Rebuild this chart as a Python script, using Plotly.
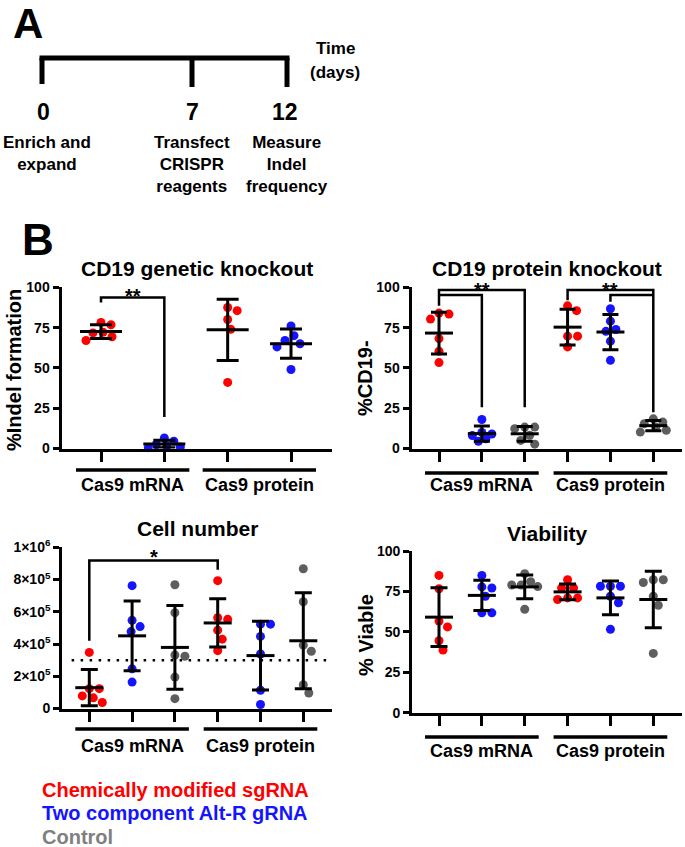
import numpy as np
import plotly.graph_objects as go

W, H = 685, 847
FONT = "Liberation Sans, Arial, Helvetica, sans-serif"

# ---------------- data ----------------
group_labels = ["Cas9 mRNA", "Cas9 protein"]
series_names = ["Chemically modified sgRNA", "Two component Alt-R gRNA", "Control"]
series_colors = ["#ff0000", "#1414ff", "#5e5e5e"]
legend_colors = ["#ff0000", "#1414ff", "#808080"]

timeline_days = ["0", "7", "12"]
timeline_events = ["Enrich and<br>expand", "Transfect<br>CRISPR<br>reagents", "Measure<br>Indel<br>frequency"]

# CD19 genetic knockout (% indel formation)
indel_mrna_sg = [78.2, 76.8, 71.7, 72.1, 67.0, 69.3]
indel_mrna_alt = [0.5, 1.0, 2.5, 6.5, 4.5, 1.5]
indel_prot_sg = [85.5, 80.0, 87.5, 74.0, 41.0]
indel_prot_alt = [70.0, 76.0, 65.0, 63.0, 67.0, 49.0]

# CD19 protein knockout (%CD19-)
cd19_mrna_sg = [84.0, 83.4, 80.3, 68.2, 60.4, 53.3]
cd19_mrna_alt = [18.0, 10.0, 9.0, 8.0, 6.0, 4.5]
cd19_mrna_ctrl = [12.3, 13.3, 13.3, 8.2, 5.0, 2.7]
cd19_prot_sg = [88.5, 85.5, 69.7, 69.7, 63.0]
cd19_prot_alt = [86.7, 79.0, 73.8, 72.7, 66.6, 54.7]
cd19_prot_ctrl = [18.4, 16.4, 15.4, 13.3, 10.2, 11.3]

# Cell number
cells_mrna_sg = [3.48e5, 1.23e5, 1.23e5, 0.78e5, 0.66e5, 0.37e5]
cells_mrna_alt = [7.62e5, 5.47e5, 5.08e5, 4.77e5, 2.46e5, 1.64e5]
cells_mrna_ctrl = [7.68e5, 5.94e5, 3.24e5, 3.32e5, 1.95e5, 0.61e5]
cells_prot_sg = [7.93e5, 5.53e5, 5.63e5, 4.86e5, 4.30e5, 3.59e5]
cells_prot_alt = [5.23e5, 5.23e5, 4.47e5, 3.38e5, 1.13e5, 0.25e5]
cells_prot_ctrl = [8.67e5, 6.62e5, 3.93e5, 3.55e5, 1.48e5, 0.96e5]
cells_threshold = 3.0e5
cells_tickvals = [0, 2e5, 4e5, 6e5, 8e5, 1e6]
cells_ticktext = ["0", "2×10<sup>5</sup>", "4×10<sup>5</sup>", "6×10<sup>5</sup>",
                  "8×10<sup>5</sup>", "1×10<sup>6</sup>"]

# Viability (% viable)
viab_mrna_sg = [84.9, 76.7, 56.7, 53.1, 44.5, 38.8]
viab_mrna_alt = [84.9, 77.1, 77.8, 72.0, 61.8, 61.8]
viab_mrna_ctrl = [86.0, 81.0, 79.0, 79.0, 78.0, 64.0]
viab_prot_sg = [82.2, 77.1, 77.1, 71.0, 71.0, 70.0]
viab_prot_alt = [78.2, 78.2, 78.2, 72.0, 68.0, 51.6]
viab_prot_ctrl = [82.2, 82.2, 80.5, 72.0, 66.5, 36.7]

pct_ticks = [0, 25, 50, 75, 100]

# ---------------- panel layout ----------------
panels = [
    dict(title="CD19 genetic knockout", ytitle="%Indel formation",
         values=[indel_mrna_sg, indel_mrna_alt, indel_prot_sg, indel_prot_alt],
         series=[0, 1, 0, 1], groups=[(0, 1), (2, 3)], ymax=100,
         yticks=pct_ticks, yticktext=[str(v) for v in pct_ticks],
         brackets=[dict(a=0, b=1, top=93.6, la=90.5, lb=19.5)],
         stars=[dict(x=0.5, y=93.6, t="**", gap=6)],
         xl=60, xr=332, t0=101, t1=291, y0=450, yt=287.3,
         mean_px=42, cap=11, ext=25, gline=470, glabel=485, spread=16,
         title_xy=(197, 268), ytitle_xy=(14, 370)),
    dict(title="CD19 protein knockout", ytitle="%CD19-",
         values=[cd19_mrna_sg, cd19_mrna_alt, cd19_mrna_ctrl, cd19_prot_sg, cd19_prot_alt, cd19_prot_ctrl],
         series=[0, 1, 2, 0, 1, 2], groups=[(0, 2), (3, 5)], ymax=100,
         yticks=pct_ticks, yticktext=[str(v) for v in pct_ticks],
         brackets=[dict(a=0, b=2, top=98.3, la=88.5, lb=25.6),
                   dict(a=0, b=1, top=95.3, la=None, lb=25.6),
                   dict(a=3, b=5, top=98.3, la=92.0, lb=22.5),
                   dict(a=4, b=5, top=95.3, la=91.0, lb=None)],
         stars=[dict(x=1, y=98.3, t="**", gap=4.5), dict(x=4, y=98.3, t="**", gap=4.5)],
         xl=410, xr=681.7, t0=439, t1=653.3, y0=450, yt=287.3,
         mean_px=28, cap=8, ext=14, gline=473, glabel=485, spread=13,
         title_xy=(547, 268), ytitle_xy=(365, 378)),
    dict(title="Cell number", ytitle=None,
         values=[cells_mrna_sg, cells_mrna_alt, cells_mrna_ctrl, cells_prot_sg, cells_prot_alt, cells_prot_ctrl],
         series=[0, 1, 2, 0, 1, 2], groups=[(0, 2), (3, 5)], ymax=1e6,
         yticks=cells_tickvals, yticktext=cells_ticktext,
         brackets=[dict(a=0, b=3, top=9.18e5, la=4.2e5, lb=8.6e5)],
         stars=[dict(x=1.5, y=9.18e5, t="*", gap=8)],
         xl=60.7, xr=331.7, t0=89.3, t1=303.3, y0=710, yt=547.3,
         mean_px=28, cap=8.5, ext=14, gline=729, glabel=746, spread=13,
         title_xy=(197, 528), ytitle_xy=None, threshold=cells_threshold),
    dict(title="Viability", ytitle="% Viable",
         values=[viab_mrna_sg, viab_mrna_alt, viab_mrna_ctrl, viab_prot_sg, viab_prot_alt, viab_prot_ctrl],
         series=[0, 1, 2, 0, 1, 2], groups=[(0, 2), (3, 5)], ymax=100,
         yticks=pct_ticks, yticktext=[str(v) for v in pct_ticks],
         brackets=[], stars=[],
         xl=410.7, xr=681.7, t0=439, t1=653.3, y0=714.3, yt=551,
         mean_px=28, cap=8.5, ext=14, gline=737, glabel=751, spread=13,
         title_xy=(547, 533), ytitle_xy=(366, 635)),
]

LW = 3
DOT = 9          # marker diameter px
MIN_D = 10       # swarm spacing px


def px2x(px):
    return px / W


def px2y(py):
    return 1 - py / H


def swarm(vals, ppu_y, d, max_off):
    """Beeswarm offsets (px); dots avoid overlap within +/- max_off, else least overlap."""
    order = sorted(range(len(vals)), key=lambda i: -vals[i])
    placed = []
    offs = [0.0] * len(vals)
    cands = [0.0]
    k = 1
    while k * 0.5 <= max_off:
        cands += [k * 0.5, -k * 0.5]
        k += 1
    for i in order:
        y = vals[i] * ppu_y
        best, best_d = 0.0, -1.0
        for c in cands:
            md = min([((c - px) ** 2 + (y - py) ** 2) ** 0.5 for px, py in placed] or [1e9])
            if md >= d:
                best = c
                break
            if md > best_d + 1e-9:
                best, best_d = c, md
        placed.append((best, y))
        offs[i] = best
    return offs


fig = go.Figure()
ann = []
shapes = []


def text(x, y, s, size, color="black", family=FONT, xanchor="center", yanchor="middle",
         angle=0, align="center"):
    ann.append(dict(x=px2x(x), y=px2y(y), xref="paper", yref="paper", text=s, showarrow=False,
                    font=dict(family=family, size=size, color=color, weight="bold"),
                    xanchor=xanchor, yanchor=yanchor, textangle=angle, align=align))


layout_axes = {}
for k, p in enumerate(panels, start=1):
    n = len(p["values"])
    s = (p["t1"] - p["t0"]) / (n - 1)
    domL = p["xl"] + LW / 2
    domR = p["xr"]
    domB = p["y0"] - LW / 2
    domT = p["yt"]
    r0 = -(p["t0"] - domL) / s
    r1 = (n - 1) + (domR - p["t1"]) / s
    ppu_y = (domB - domT) / p["ymax"]
    xa = "x" if k == 1 else f"x{k}"
    ya = "y" if k == 1 else f"y{k}"
    layout_axes["xaxis" if k == 1 else f"xaxis{k}"] = dict(
        domain=[px2x(domL), px2x(domR)], range=[r0, r1], anchor=ya,
        showgrid=False, zeroline=False, showline=True, linewidth=LW, linecolor="black",
        tickvals=list(range(n)), ticks="outside", ticklen=10, tickwidth=LW, tickcolor="black",
        showticklabels=False, fixedrange=True)
    layout_axes["yaxis" if k == 1 else f"yaxis{k}"] = dict(
        domain=[px2y(domB), px2y(domT)], range=[0, p["ymax"]], anchor=xa,
        showgrid=False, zeroline=False, showline=True, linewidth=LW, linecolor="black",
        tickvals=p["yticks"], ticktext=p["yticktext"], ticks="outside", ticklen=6,
        tickwidth=LW, tickcolor="black",
        tickfont=dict(family=FONT, size=14, color="black", weight="bold"), fixedrange=True)

    # dotted threshold
    if p.get("threshold") is not None:
        fig.add_trace(go.Scatter(x=[r0 + 0.22, r1], y=[p["threshold"]] * 2, mode="lines",
                                 line=dict(color="black", width=2.5, dash="2.5px,6.5px"),
                                 xaxis=xa, yaxis=ya, showlegend=False, hoverinfo="skip"))

    # points
    for ci, (vals, si) in enumerate(zip(p["values"], p["series"])):
        offs = swarm(vals, ppu_y, MIN_D, p["spread"])
        fig.add_trace(go.Scatter(
            x=[ci + o / s for o in offs], y=vals, mode="markers",
            marker=dict(size=DOT, color=series_colors[si], line=dict(width=0)),
            xaxis=xa, yaxis=ya, showlegend=False, cliponaxis=False,
            name=series_names[si]))
    # mean +/- SD
    for ci, vals in enumerate(p["values"]):
        m = float(np.mean(vals))
        sd = float(np.std(vals, ddof=1))
        fig.add_trace(go.Scatter(
            x=[ci], y=[m], mode="markers",
            marker=dict(symbol="line-ew", size=p["mean_px"] / 1.4, color="black",
                        line=dict(width=LW, color="black")),
            error_y=dict(type="data", array=[sd], arrayminus=[sd], visible=True,
                         color="black", thickness=LW, width=p["cap"]),
            xaxis=xa, yaxis=ya, showlegend=False, cliponaxis=False))
    # significance brackets
    for b in p["brackets"]:
        xs, ys = [], []
        if b["la"] is not None:
            xs += [b["a"], b["a"]]
            ys += [b["la"], b["top"]]
        else:
            xs += [b["a"]]
            ys += [b["top"]]
        xs += [b["b"]]
        ys += [b["top"]]
        if b["lb"] is not None:
            xs += [b["b"]]
            ys += [b["lb"]]
        fig.add_trace(go.Scatter(x=xs, y=ys, mode="lines",
                                 line=dict(color="black", width=2.5),
                                 xaxis=xa, yaxis=ya, showlegend=False, hoverinfo="skip"))
    for st in p["stars"]:
        sx = p["t0"] + st["x"] * s
        sy = domB - st["y"] * ppu_y
        # asterisk glyph sits ~4.4px above the text box centre
        text(sx, sy - st["gap"] + 4.4, st["t"], 20, yanchor="middle")

    # group lines & labels
    for gi, (ga, gb) in enumerate(p["groups"]):
        xa_px = p["t0"] + ga * s - p["ext"]
        xb_px = p["t0"] + gb * s + p["ext"]
        shapes.append(dict(type="line", xref="paper", yref="paper",
                           x0=px2x(xa_px), x1=px2x(xb_px), y0=px2y(p["gline"]), y1=px2y(p["gline"]),
                           line=dict(color="black", width=3.5)))
        text((xa_px + xb_px) / 2, p["glabel"], group_labels[gi], 18)

    # titles
    text(p["title_xy"][0], p["title_xy"][1], p["title"], 21)
    if p["ytitle"]:
        text(p["ytitle_xy"][0], p["ytitle_xy"][1], p["ytitle"], 20, angle=-90)

# ---------------- panel A: timeline ----------------
text(28, -2, "A", 42, yanchor="top")
text(38, 239, "B", 44)
tl_y = 58
tick_x = [42, 192, 287]
shapes.append(dict(type="line", xref="paper", yref="paper", x0=px2x(39.5), x1=px2x(289.5),
                   y0=px2y(tl_y), y1=px2y(tl_y), line=dict(color="black", width=5)))
for i, tx in enumerate(tick_x):
    shapes.append(dict(type="line", xref="paper", yref="paper", x0=px2x(tx), x1=px2x(tx),
                       y0=px2y(tl_y), y1=px2y(84 if i == 0 else 87), line=dict(color="black", width=5)))
text(335, 48, "Time", 17)
text(335, 72, "(days)", 17)
day_x = [43, 192, 285]
for i in range(3):
    text(day_x[i], 112, timeline_days[i], 23)
text(1, 131, timeline_events[0], 17, yanchor="top", xanchor="left")
text(192, 131, timeline_events[1], 17, yanchor="top")
text(287, 131, timeline_events[2], 17, yanchor="top")

# ---------------- legend text ----------------
leg_y = [790, 813, 837]
for i in range(3):
    text(40, leg_y[i], series_names[i], 20, color=legend_colors[i], xanchor="left")

fig.update_layout(
    width=W, height=H, margin=dict(l=0, r=0, t=0, b=0, autoexpand=False),
    paper_bgcolor="white", plot_bgcolor="white",
    showlegend=False, annotations=ann, shapes=shapes, **layout_axes)

fig.write_html("out.html", config={"displayModeBar": False},
               post_script="document.body.style.margin='0';document.body.style.overflow='hidden';")
